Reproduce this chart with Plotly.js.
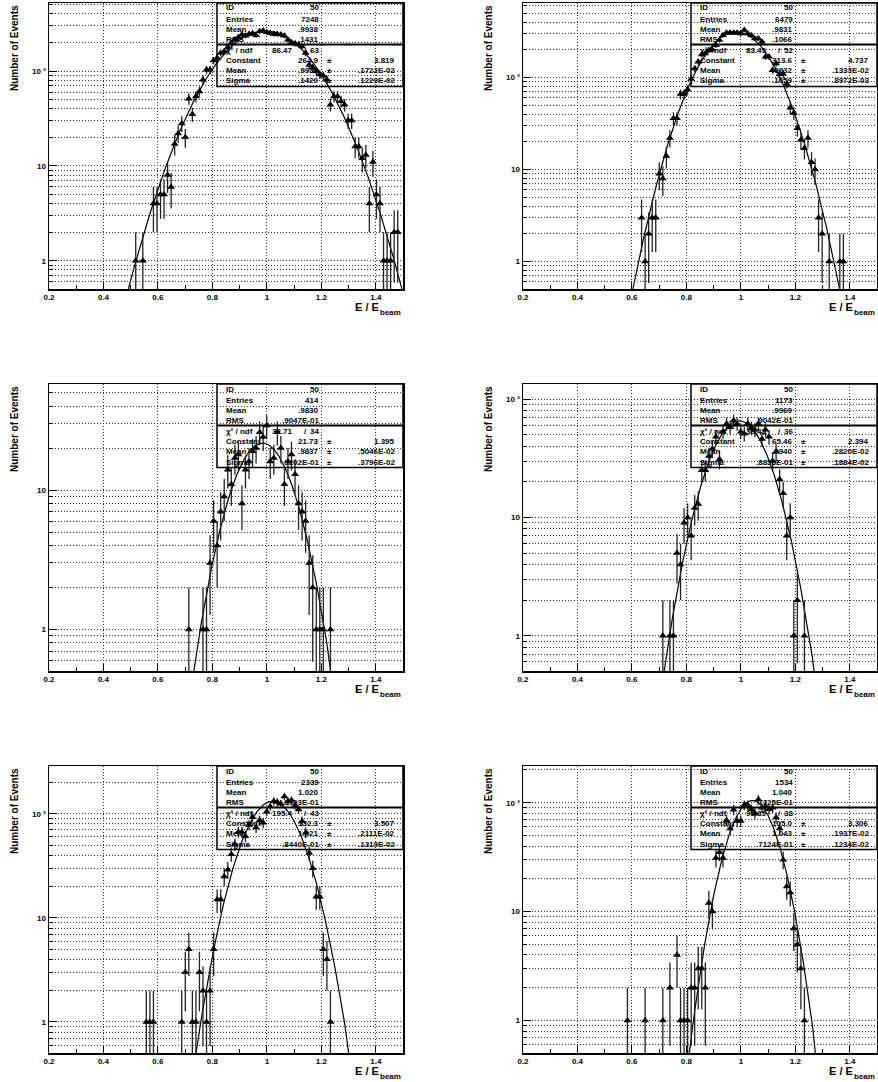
<!DOCTYPE html>
<html><head><meta charset="utf-8">
<script src="https://cdn.plot.ly/plotly-3.0.1.min.js"></script>
<style>html,body{margin:0;padding:0;background:#fff}</style>
</head><body><div id="chart" style="width:878px;height:1082px"></div>
<script>
// ---------------- DATA (bin centres and counts) ----------------
const p1X = [0.5185,0.5445,
0.5835,0.5965,0.6095,0.6225,0.6355,0.6485,0.6615,0.6745,0.6875,0.7005,
0.7135,0.7265,0.7395,0.7525,0.7655,0.7785,0.7915,0.8045,0.8175,0.8305,
0.8435,0.8565,0.8695,0.8825,0.8955,0.9085,0.9215,0.9345,0.9475,0.9605,
0.9735,0.9865,0.9995,1.0125,1.0255,1.0385,1.0515,1.0645,1.0775,1.0905,
1.1035,1.1165,1.1295,1.1425,1.1555,1.1685,1.1815,1.1945,1.2075,1.2205,
1.2335,1.2465,1.2595,1.2725,1.2855,1.2985,1.3115,1.3245,1.3375,1.3505,
1.3635,1.3765,1.3895,1.4025,1.4155,1.4285,1.4415,1.4545,1.4675,1.4805];
const p1Y = [1,1,
4,4,5,5,8,6,17,22,28,20,
51,35,54,61,81,103,103,129,137,155,
161,178,198,215,227,242,236,246,250,238,
262,267,257,251,246,245,242,236,214,200,
195,190,181,155,116,108,99,92,89,81,
44,54,54,48,44,30,30,16,16,12,
13,4,11,5,4,1,1,1,2,2];

const p2X = [0.6355,0.6485,0.6615,0.6745,0.6875,0.7005,0.7135,0.7265,0.7395,0.7525,
0.7655,0.7785,0.7915,0.8045,0.8175,0.8305,0.8435,0.8565,0.8695,0.8825,
0.8955,0.9085,0.9215,0.9345,0.9475,0.9605,0.9735,0.9865,0.9995,1.0125,
1.0255,1.0385,1.0515,1.0645,1.0775,1.0905,1.1035,1.1165,1.1295,1.1425,
1.1555,1.1685,1.1815,1.1945,1.2075,1.2205,1.2335,1.2465,1.2595,1.2725,
1.2855,1.2985,1.3245,1.3635,1.3765];
const p2Y = [3,1,2,3,3,9,8,14,22,36,
36,66,66,74,96,125,148,178,182,198,
200,224,255,288,307,307,307,307,300,327,
300,288,265,265,244,168,168,120,142,109,
109,85,47,41,28,21,17,22,12,10,
3,2,1,1,1];

const p3X = [0.7135,
0.7655,0.7785,0.7915,0.8045,0.8175,0.8305,0.8435,0.8565,0.8695,0.8825,
0.8955,0.9085,0.9215,0.9345,0.9475,0.9605,0.9735,0.9865,0.9995,1.0125,
1.0255,1.0385,1.0515,1.0645,1.0775,1.0905,1.1035,1.1165,1.1295,1.1425,
1.1555,1.1685,1.1815,1.1945,1.2075,
1.2335];
const p3Y = [1,
1,1,3,6,4,7,9,14,11,17,
18,8,14,16,19,20,26,24,29,16,
17,26,20,11,16,18,13,8,7,6,
3,2,1,1,1,
1];

const p4X = [0.7135,
0.7395,0.7525,0.7655,0.7785,0.7915,0.8045,0.8175,0.8305,0.8435,0.8565,
0.8695,0.8825,0.8955,0.9085,0.9215,0.9345,0.9475,0.9605,0.9735,0.9865,
0.9995,1.0125,1.0255,1.0385,1.0515,1.0645,1.0775,1.0905,1.1035,1.1165,
1.1295,1.1425,1.1555,1.1685,1.1815,1.1945,1.2075,
1.2335];
const p4Y = [1,
1,1,5,4,9,10,7,12,13,25,
25,33,38,48,31,53,62,58,66,62,
53,51,62,57,55,62,46,55,48,30,
36,21,16,7,10,1,2,
1];

const p5X = [0.5575,0.5705,0.5835,
0.6875,0.7005,0.7135,0.7265,0.7395,0.7525,0.7655,0.7785,0.7915,0.8045,
0.8175,0.8305,0.8435,0.8565,0.8695,0.8825,0.8955,0.9085,0.9215,0.9345,
0.9475,0.9605,0.9735,0.9865,0.9995,1.0125,1.0255,1.0385,1.0515,1.0645,
1.0775,1.0905,1.1035,1.1165,1.1295,1.1425,1.1555,1.1685,1.1815,1.1945,
1.2075,1.2205,1.2335];
const p5Y = [1,1,1,
1,3,5,1,1,3,2,1,2,5,
15,15,25,29,41,51,67,67,61,78,
93,74,87,82,105,118,132,130,125,147,
132,135,121,110,85,66,42,30,16,16,
5,4,1];

const p6X = [0.5835,0.6485,0.7135,0.7395,
0.7655,0.7785,0.7915,0.8045,0.8175,0.8305,0.8435,0.8565,0.8695,0.8825,
0.8955,0.9085,0.9215,0.9345,0.9475,0.9605,0.9735,0.9865,0.9995,1.0125,
1.0255,1.0385,1.0515,1.0645,1.0775,1.0905,1.1035,1.1165,1.1295,1.1425,
1.1555,1.1685,1.1815,1.1945,1.2075,1.2205,1.2335];
const p6Y = [1,1,1,2,
4,1,1,1,2,2,3,3,2,12,
10,31,35,31,69,58,86,68,68,95,
95,87,80,107,90,93,87,90,73,58,
30,17,15,7,5,3,1];

// Gaussian fit parameters (from the statistics boxes)
const fitConst = [264.9, 313.6, 21.73, 65.46, 132.3, 105.0];
const fitMean  = [0.9936, 0.9832, 0.9837, 0.9940, 1.021, 1.043];
const fitSigma = [0.1420, 0.1059, 0.09202, 0.08853, 0.08440, 0.07124];

// statistics box texts
const statLabels = ['ID','Entries','Mean','RMS'];
const statValues = [
  ['50','7248','.9938','.1431'],
  ['50','6479','.9831','.1066'],
  ['50','414','.9830','.9047E-01'],
  ['50','1173','.9969','.9042E-01'],
  ['50','2339','1.020','.8993E-01'],
  ['50','1534','1.040','.7725E-01']
];
const fitLabels = ['\u03C7\u00B2 / ndf','Constant','Mean','Sigma'];
const chi2Values = ['86.47','83.49','32.71','36.41','195.4','95.85'];
const ndfValues  = ['63','52','34','36','43','38'];
const fitValTexts = [
  ['264.9','.9936','.1420'],
  ['313.6','.9832','.1059'],
  ['21.73','.9837','.9202E-01'],
  ['65.46','.9940','.8853E-01'],
  ['132.3','1.021','.8440E-01'],
  ['105.0','1.043','.7124E-01']
];
const fitErrTexts = [
  ['3.819','.1722E-02','.1229E-02'],
  ['4.737','.1333E-02','.8972E-03'],
  ['1.395','.5046E-02','.3796E-02'],
  ['2.394','.2820E-02','.1884E-02'],
  ['3.507','.2111E-02','.1319E-02'],
  ['3.306','.1937E-02','.1234E-02']
];

// axis ticks and titles
const xTickVals = [0.2,0.4,0.6,0.8,1.0,1.2,1.4];
const xTickText = ['0.2','0.4','0.6','0.8','1','1.2','1.4'];
const yTickVals = [1,10,100];
const yTickText = ['1','10','10 \u00B2'];
const yMinorVals = [0.5,0.6,0.7,0.8,0.9,2,3,4,5,6,7,8,9,20,30,40,50,60,70,80,90,200,300,400,500,600,700,800,900];
const yTitle = 'Number of Events';
const xTitleMain = 'E / E';
const xTitleSub = 'beam';

// ---------------- LAYOUT GEOMETRY ----------------
const W = 878, H = 1082;
const panels = [
  {l:49, r:403, t:3,   b:289},
  {l:523,r:877, t:3,   b:289},
  {l:49, r:403, t:384, b:671},
  {l:523,r:877, t:384, b:671},
  {l:49, r:403, t:766, b:1053},
  {l:523,r:877, t:766, b:1053}
];
const yTopLog = [2.717, 2.809, 1.761, 2.128, 2.46, 2.337];
const yBotLog = -0.298;

const FONT = 'Liberation Sans, Arial, Helvetica, sans-serif';
const GRID = {color:'#333', dash:'1px,2px'};
const px = v => v / W;
const py = v => 1 - v / H;

const dataX = [p1X,p2X,p3X,p4X,p5X,p6X];
const dataY = [p1Y,p2Y,p3Y,p4Y,p5Y,p6Y];

const traces = [];
const layout = {
  width: W, height: H, margin:{l:0,r:0,t:0,b:0},
  paper_bgcolor:'#fff', plot_bgcolor:'#fff', showlegend:false,
  shapes: [], annotations: []
};

function txt(x, y, text, anchor, size){
  return {xref:'paper', yref:'paper', x:px(x), y:py(y), text:text, showarrow:false,
    xanchor:anchor, yanchor:'middle',
    font:{family:FONT, size:size||8, color:'#000', weight:'bold'}};
}

panels.forEach((p, i) => {
  const n = i + 1;
  const xa = 'x' + (n>1?n:''), ya = 'y' + (n>1?n:'');
  const xkey = 'xaxis' + (n>1?n:''), ykey = 'yaxis' + (n>1?n:'');

  // fit curve evaluated from the fit parameters
  const fx = [], fy = [];
  for (let k = 0; k <= 650; k++) {
    const x = 0.2 + k * 0.002;
    const z = (x - fitMean[i]) / fitSigma[i];
    fx.push(x); fy.push(fitConst[i] * Math.exp(-0.5 * z * z));
  }
  traces.push({x:fx, y:fy, xaxis:xa, yaxis:ya, mode:'lines', type:'scatter',
    line:{color:'#000', width:1.2}, hoverinfo:'skip', cliponaxis:true});

  traces.push({x:dataX[i], y:dataY[i], xaxis:xa, yaxis:ya, mode:'markers', type:'scatter',
    marker:{symbol:'triangle-up', size:7, color:'#000'},
    error_y:{type:'sqrt', visible:true, color:'#222', thickness:1.3, width:0},
    cliponaxis:true});

  layout[xkey] = {
    domain:[px(p.l), px(p.r)], anchor:ya, range:[0.2,1.5],
    tickmode:'array', tickvals:xTickVals, ticktext:xTickText,
    ticks:'inside', ticklen:7, tickwidth:1, tickcolor:'#000',
    showline:true, mirror:true, linecolor:'#000', linewidth:1.5,
    showgrid:true, gridcolor:GRID.color, griddash:GRID.dash, gridwidth:1, zeroline:false,
    tickfont:{family:FONT, size:8, color:'#000', weight:'bold'},
    minor:{tick0:0.2, dtick:0.1, ticks:'inside', ticklen:4, tickcolor:'#000', showgrid:false}
  };
  layout[ykey] = {
    type:'log', domain:[py(p.b), py(p.t)], anchor:xa, range:[yBotLog, yTopLog[i]],
    tickmode:'array', tickvals:yTickVals, ticktext:yTickText,
    ticks:'inside', ticklen:8, tickwidth:1, tickcolor:'#000',
    showline:true, mirror:true, linecolor:'#000', linewidth:1.5,
    showgrid:true, gridcolor:GRID.color, griddash:GRID.dash, gridwidth:1, zeroline:false,
    tickfont:{family:FONT, size:8, color:'#000', weight:'bold'},
    minor:{tickmode:'array', tickvals:yMinorVals, ticks:'inside', ticklen:4, tickcolor:'#000',
      showgrid:true, gridcolor:GRID.color, griddash:GRID.dash, gridwidth:1}
  };

  // statistics box
  const bx0 = p.l + 168;
  layout.shapes.push({type:'rect', xref:'paper', yref:'paper', x0:px(bx0), x1:px(p.r),
    y0:py(p.t + 83.5), y1:py(p.t), line:{color:'#000', width:1.5}, layer:'above'});
  layout.shapes.push({type:'line', xref:'paper', yref:'paper', x0:px(bx0), x1:px(p.r),
    y0:py(p.t + 41.5), y1:py(p.t + 41.5), line:{color:'#000', width:2}, layer:'above'});

  const upperRows = [5, 16, 26, 36.5];
  const lowerRows = [47, 57.5, 67.5, 78];
  statLabels.forEach((lab, r) => {
    layout.annotations.push(txt(p.l + 175, p.t + upperRows[r], lab, 'left'));
    layout.annotations.push(txt(p.l + 272, p.t + upperRows[r], statValues[i][r], 'right'));
  });
  fitLabels.forEach((lab, r) => {
    layout.annotations.push(txt(p.l + 175, p.t + lowerRows[r], lab, 'left'));
  });
  layout.annotations.push(txt(p.l + 246, p.t + lowerRows[0], chi2Values[i], 'right'));
  layout.annotations.push(txt(p.l + 256, p.t + lowerRows[0], '/', 'center'));
  layout.annotations.push(txt(p.l + 272, p.t + lowerRows[0], ndfValues[i], 'right'));
  for (let r = 0; r < 3; r++) {
    layout.annotations.push(txt(p.l + 272, p.t + lowerRows[r+1], fitValTexts[i][r], 'right'));
    layout.annotations.push(txt(p.l + 280, p.t + lowerRows[r+1], '\u00B1', 'center'));
    layout.annotations.push(txt(p.l + 348, p.t + lowerRows[r+1], fitErrTexts[i][r], 'right'));
  }

  // axis titles
  layout.annotations.push({xref:'paper', yref:'paper', x:px(p.l - 35), y:py(p.t), text:yTitle,
    textangle:-90, showarrow:false, xanchor:'center', yanchor:'top',
    font:{family:FONT, size:10, color:'#000', weight:'bold'}});
  layout.annotations.push(txt(p.r - 22, p.b + 18, xTitleMain, 'right', 11));
  layout.annotations.push(txt(p.r, p.b + 23, xTitleSub, 'right', 8));
});

Plotly.newPlot('chart', traces, layout, {staticPlot:true, displayModeBar:false});
</script>
</body></html>
